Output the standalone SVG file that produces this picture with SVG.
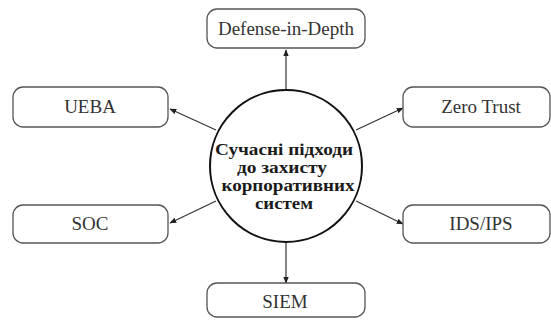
<svg xmlns="http://www.w3.org/2000/svg" width="551" height="320" viewBox="0 0 551 320">
  <style>
    .box { fill: #ffffff; stroke: #555555; stroke-width: 1.3; }
    .label { font-family: "Liberation Serif", "Times New Roman", serif; font-size: 19px; fill: #333333; text-anchor: middle; }
    .hub { fill: #ffffff; stroke: #111111; stroke-width: 2; }
    .hubtext { font-family: "Liberation Serif", "Times New Roman", serif; font-size: 16px; font-weight: bold; fill: #1a1a1a; text-anchor: middle; }
    .link { stroke: #333333; stroke-width: 1.2; fill: none; marker-end: url(#arrow); }
  </style>
  <defs>
    <marker id="arrow" viewBox="0 0 10 10" refX="9" refY="5" markerWidth="7" markerHeight="7" orient="auto" markerUnits="userSpaceOnUse">
      <path d="M0,1 L10,5 L0,9 Z" fill="#222222"/>
    </marker>
  </defs>
  <rect width="551" height="320" fill="#ffffff"/>

  <g id="connectors">
    <line class="link" x1="286" y1="89" x2="286" y2="50"/>
    <line class="link" x1="216" y1="130" x2="170" y2="109"/>
    <line class="link" x1="356" y1="130" x2="403" y2="108"/>
    <line class="link" x1="216" y1="201" x2="170" y2="223"/>
    <line class="link" x1="356" y1="201" x2="403" y2="224"/>
    <line class="link" x1="286" y1="243" x2="286" y2="283"/>
  </g>

  <g id="hub">
    <circle class="hub" cx="286" cy="166" r="76"/>
    <!-- four-line title, stretched to the width of each line -->
    <text class="hubtext" x="284" y="155" textLength="138" lengthAdjust="spacingAndGlyphs">Сучасні підходи</text>
    <text class="hubtext" x="282" y="173" textLength="90" lengthAdjust="spacingAndGlyphs">до захисту</text>
    <text class="hubtext" x="288" y="191" textLength="133" lengthAdjust="spacingAndGlyphs">корпоративних</text>
    <text class="hubtext" x="284" y="209" textLength="58" lengthAdjust="spacingAndGlyphs">систем</text>
  </g>

  <g id="defense-in-depth">
    <rect class="box" x="207" y="9" width="158" height="39" rx="10"/>
    <text class="label" x="286" y="35">Defense-in-Depth</text>
  </g>

  <g id="ueba">
    <rect class="box" x="13" y="87" width="155" height="40" rx="10"/>
    <text class="label" x="90" y="113">UEBA</text>
  </g>

  <g id="zero-trust">
    <rect class="box" x="403" y="87" width="147" height="40" rx="10"/>
    <text class="label" x="481" y="113">Zero Trust</text>
  </g>

  <g id="soc">
    <rect class="box" x="13" y="205" width="155" height="38" rx="10"/>
    <text class="label" x="90" y="230">SOC</text>
  </g>

  <g id="ids-ips">
    <rect class="box" x="403" y="205" width="147" height="38" rx="10"/>
    <text class="label" x="481" y="230">IDS/IPS</text>
  </g>

  <g id="siem">
    <rect class="box" x="207" y="283" width="158" height="34" rx="10"/>
    <text class="label" x="285" y="308">SIEM</text>
  </g>
</svg>
